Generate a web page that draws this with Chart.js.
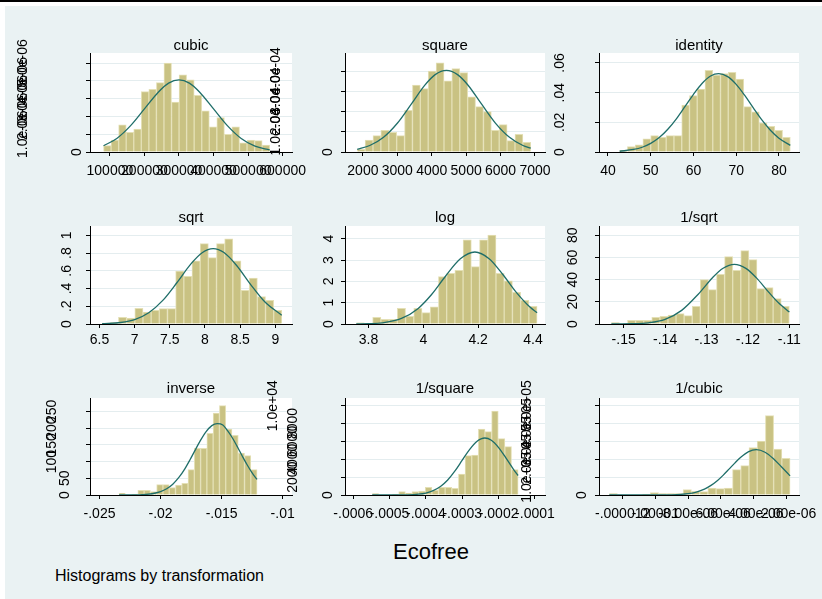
<!DOCTYPE html>
<html>
<head>
<meta charset="utf-8">
<script src="https://cdn.jsdelivr.net/npm/chart.js@4.4.1/dist/chart.umd.min.js"></script>
<style>
  html, body { margin: 0; padding: 0; background: #fff; }
  #page { position: relative; width: 822px; height: 599px; overflow: hidden; background: #fff;
          font-family: "Liberation Sans", Arial, sans-serif; color: #000; }
  #topline { position: absolute; left: 0; top: 0; width: 822px; height: 2px; background: #000; }
  #bg { position: absolute; left: 5px; top: 6px; width: 817px; height: 593px; background: #eaf2f3; }
  canvas { position: absolute; }
  .ttl { position: absolute; font-size: 15px; line-height: 15px; text-align: center; white-space: nowrap; z-index: 5; }
  #xname { position: absolute; left: 331px; width: 200px; top: 541px; font-size: 22px; line-height: 22px; text-align: center; }
  #note { position: absolute; left: 55px; top: 568px; font-size: 16px; line-height: 16px; white-space: nowrap; }
</style>
</head>
<body>
<div id="page">
  <div id="topline"></div>
  <div id="bg"></div>
  <div id="xname">Ecofree</div>
  <div id="note">Histograms by transformation</div>
</div>
<script>
// ---- data (bin midpoints, densities, normal curve points, ticks) ----

// cubic
const cubicMid = [92570, 114430, 136290, 158150, 180010, 201870, 223730, 245590, 267450, 289310, 311170, 333030, 354890, 376750, 398610, 420470, 442330, 464190, 486050, 507910, 529770, 551630];
const cubicDensity = [0.36e-6, 0.67e-6, 1.52e-6, 1.11e-6, 1.29e-6, 3.39e-6, 3.52e-6, 3.90e-6, 5.00e-6, 2.81e-6, 4.33e-6, 4.06e-6, 3.18e-6, 2.32e-6, 1.42e-6, 1.93e-6, 0.99e-6, 1.42e-6, 0.51e-6, 0.67e-6, 0.64e-6, 0.39e-6];
const cubicNormX = [81640, 120000, 160000, 200000, 240000, 270000, 300000, 330000, 360000, 400000, 440000, 480000, 520000, 562560];
const cubicNormY = [0.35e-6, 0.76e-6, 1.48e-6, 2.42e-6, 3.36e-6, 3.87e-6, 4.05e-6, 3.87e-6, 3.36e-6, 2.42e-6, 1.48e-6, 0.76e-6, 0.33e-6, 0.12e-6];
const cubicXTicks = [100000, 200000, 300000, 400000, 500000, 600000];
const cubicXLabels = ['100000', '200000', '300000', '400000', '500000', '600000'];
const cubicYTicks = [0, 1e-6, 2e-6, 3e-6, 4e-6, 5e-6];
const cubicYLabels = ['0', '1.0e-06', '2.0e-06', '3.0e-06', '4.0e-06', '5.0e-06'];

// square
const squareMid = [1950, 2179, 2408, 2637, 2866, 3096, 3325, 3554, 3783, 4012, 4242, 4471, 4700, 4929, 5158, 5388, 5617, 5846, 6075, 6304, 6534, 6763];
const squareDensity = [0.13e-4, 0.59e-4, 0.81e-4, 1.07e-4, 0.97e-4, 0.81e-4, 2.06e-4, 3.31e-4, 3.13e-4, 4.00e-4, 4.40e-4, 3.52e-4, 4.12e-4, 3.92e-4, 2.73e-4, 2.24e-4, 1.99e-4, 1.07e-4, 1.35e-4, 0.56e-4, 0.87e-4, 0.48e-4];
const squareNormX = [1835, 2200, 2600, 3000, 3400, 3800, 4100, 4427, 4750, 5050, 5450, 5850, 6250, 6650, 6877];
const squareNormY = [0.13e-4, 0.32e-4, 0.73e-4, 1.42e-4, 2.35e-4, 3.30e-4, 3.82e-4, 4.03e-4, 3.82e-4, 3.31e-4, 2.36e-4, 1.43e-4, 0.74e-4, 0.32e-4, 0.19e-4];
const squareXTicks = [2000, 3000, 4000, 5000, 6000, 7000];
const squareXLabels = ['2000', '3000', '4000', '5000', '6000', '7000'];
const squareYTicks = [0, 1e-4, 2e-4, 3e-4, 4e-4];
const squareYLabels = ['0', '1.0e-04', '2.0e-04', '3.0e-04', '4.0e-04'];

// identity
const identityMid = [43.64, 45.45, 47.27, 49.08, 50.90, 52.71, 54.53, 56.34, 58.16, 59.97, 61.79, 63.60, 65.42, 67.23, 69.05, 70.86, 72.68, 74.49, 76.31, 78.12, 79.94, 81.75];
const identityDensity = [0.0011, 0.0036, 0.0049, 0.0088, 0.0110, 0.0099, 0.0110, 0.0110, 0.0317, 0.0380, 0.0425, 0.0551, 0.0519, 0.0528, 0.0537, 0.0492, 0.0306, 0.0270, 0.0196, 0.0173, 0.0146, 0.0099];
const identityNormX = [42.73, 46, 48, 50, 52, 54, 56, 58, 60, 62, 64, 65.9, 68, 70, 72, 74, 76, 78, 80, 82.66];
const identityNormY = [0.0005, 0.0017, 0.0032, 0.0058, 0.0097, 0.0153, 0.0224, 0.0306, 0.0389, 0.0462, 0.0512, 0.0528, 0.0508, 0.0456, 0.0381, 0.0297, 0.0216, 0.0147, 0.0093, 0.0045];
const identityXTicks = [40, 50, 60, 70, 80];
const identityXLabels = ['40', '50', '60', '70', '80'];
const identityYTicks = [0, 0.02, 0.04, 0.06];
const identityYLabels = ['0', '.02', '.04', '.06'];

// sqrt
const sqrtMid = [6.595, 6.711, 6.827, 6.944, 7.060, 7.176, 7.292, 7.408, 7.525, 7.641, 7.757, 7.873, 7.990, 8.106, 8.222, 8.338, 8.454, 8.571, 8.687, 8.803, 8.919, 9.035];
const sqrtDensity = [0.011, 0.015, 0.075, 0.068, 0.177, 0.135, 0.154, 0.173, 0.173, 0.598, 0.538, 0.711, 0.906, 0.748, 0.906, 0.959, 0.711, 0.380, 0.519, 0.308, 0.267, 0.154];
const sqrtNormX = [6.537, 6.8, 7.0, 7.2, 7.4, 7.6, 7.8, 7.96, 8.116, 8.27, 8.45, 8.65, 8.85, 9.092];
const sqrtNormY = [0.003, 0.017, 0.050, 0.127, 0.266, 0.465, 0.678, 0.804, 0.850, 0.806, 0.660, 0.445, 0.250, 0.098];
const sqrtXTicks = [6.5, 7, 7.5, 8, 8.5, 9];
const sqrtXLabels = ['6.5', '7', '7.5', '8', '8.5', '9'];
const sqrtYTicks = [0, 0.2, 0.4, 0.6, 0.8, 1];
const sqrtYLabels = ['0', '.2', '.4', '.6', '.8', '1'];

// log
const logMid = [3.770, 3.800, 3.830, 3.860, 3.890, 3.920, 3.950, 3.980, 4.010, 4.040, 4.070, 4.100, 4.130, 4.160, 4.190, 4.220, 4.250, 4.280, 4.310, 4.340, 4.370, 4.400];
const logDensity = [0.06, 0.02, 0.31, 0.22, 0.22, 0.73, 0.36, 0.73, 0.53, 0.81, 2.22, 2.38, 2.52, 3.94, 2.69, 3.94, 4.17, 2.38, 2.02, 1.48, 1.11, 0.83];
const logNormX = [3.755, 3.80, 3.85, 3.92, 3.98, 4.03, 4.08, 4.135, 4.188, 4.24, 4.29, 4.34, 4.39, 4.415];
const logNormY = [0.004, 0.016, 0.057, 0.259, 0.720, 1.384, 2.227, 3.054, 3.375, 3.061, 2.322, 1.473, 0.781, 0.532];
const logXTicks = [3.8, 4, 4.2, 4.4];
const logXLabels = ['3.8', '4', '4.2', '4.4'];
const logYTicks = [0, 1, 2, 3, 4];
const logYLabels = ['0', '1', '2', '3', '4'];

// 1/sqrt
const rsqrtMid = [-0.15200, -0.15005, -0.14810, -0.14614, -0.14419, -0.14224, -0.14028, -0.13833, -0.13638, -0.13442, -0.13247, -0.13052, -0.12857, -0.12661, -0.12466, -0.12271, -0.12075, -0.11880, -0.11685, -0.11490, -0.11294, -0.11099];
const rsqrtDensity = [1.2, 0, 3.3, 3.3, 3.3, 6.0, 6.9, 8.1, 9.3, 7.5, 15.9, 40.0, 31.0, 44.8, 60.8, 48.4, 66.2, 58.1, 31.9, 32.8, 22.9, 15.9];
const rsqrtNormX = [-0.15298, -0.148, -0.144, -0.140, -0.136, -0.132, -0.1285, -0.126, -0.12328, -0.1205, -0.118, -0.115, -0.1125, -0.10999];
const rsqrtNormY = [0.02, 0.21, 1.08, 4.23, 12.3, 26.9, 42.0, 50.3, 53.8, 50.2, 41.8, 28.8, 18.7, 10.8];
const rsqrtXTicks = [-0.15, -0.14, -0.13, -0.12, -0.11];
const rsqrtXLabels = ['-.15', '-.14', '-.13', '-.12', '-.11'];
const rsqrtYTicks = [0, 20, 40, 60, 80];
const rsqrtYLabels = ['0', '20', '40', '60', '80'];

// inverse
const inverseMid = [-0.023146, -0.022632, -0.022118, -0.021604, -0.021090, -0.020576, -0.020062, -0.019548, -0.019034, -0.018520, -0.018006, -0.017492, -0.016978, -0.016464, -0.015950, -0.015436, -0.014922, -0.014408, -0.013894, -0.013380, -0.012866, -0.012352];
const inverseDensity = [5.0, 0, 3.0, 13.9, 13.9, 10.0, 30.9, 30.9, 21.9, 29.9, 34.9, 75.7, 139.4, 139.4, 184.3, 245.0, 266.9, 197.2, 178.3, 125.5, 117.5, 75.7];
const inverseNormX = [-0.0234, -0.0222, -0.0215, -0.0207, -0.0200, -0.0195, -0.0190, -0.0185, -0.0180, -0.0176, -0.0172, -0.0168, -0.0163, -0.0158, -0.015365, -0.0149, -0.0145, -0.0141, -0.0137, -0.0133, -0.0129, -0.0125, -0.0121];
const inverseNormY = [0.02, 0.27, 0.99, 3.7, 9.9, 18.6, 32.4, 52.4, 79.1, 104.5, 131.8, 158.8, 188.1, 207.4, 213.1, 209.1, 191.5, 169.6, 143.5, 116.0, 89.6, 66.1, 46.6];
const inverseXTicks = [-0.025, -0.02, -0.015, -0.01];
const inverseXLabels = ['-.025', '-.02', '-.015', '-.01'];
const inverseYTicks = [0, 50, 100, 150, 200, 250];
const inverseYLabels = ['0', '50', '100', '150', '200', '250'];

// 1/square
const rsquareMid = [-0.0005386, -0.0005204, -0.0005021, -0.0004839, -0.0004656, -0.0004474, -0.0004291, -0.0004109, -0.0003926, -0.0003744, -0.0003561, -0.0003379, -0.0003196, -0.0003014, -0.0002831, -0.0002649, -0.0002466, -0.0002284, -0.0002101, -0.0001919, -0.0001736, -0.0001554];
const rsquareDensity = [149, 0, 0, 112, 373, 224, 373, 448, 858, 522, 858, 858, 746, 2351, 4403, 4478, 7388, 7090, 9403, 6306, 5410, 2836];
const rsquareNormX = [-0.0005477, -0.00050, -0.00045, -0.00042, -0.00040, -0.00038, -0.00036, -0.00034, -0.00032, -0.00030, -0.00028, -0.00026, -0.0002379, -0.00022, -0.00020, -0.00018, -0.00016, -0.0001464];
const rsquareNormY = [0, 1, 20, 92, 221, 482, 947, 1682, 2694, 3896, 5086, 5994, 6380, 6123, 5310, 4156, 2936, 2182];
const rsquareXTicks = [-0.0006, -0.0005, -0.0004, -0.0003, -0.0002, -0.0001];
const rsquareXLabels = ['-.0006', '-.0005', '-.0004', '-.0003', '-.0002', '-.0001'];
const rsquareYTicks = [0, 2000, 4000, 6000, 8000, 10000];
const rsquareYLabels = ['0', '2000', '4000', '6000', '8000', '1.0e+04'];

// 1/cubic
const rcubicMid = [-12.567e-6, -12.065e-6, -11.563e-6, -11.060e-6, -10.558e-6, -10.056e-6, -9.554e-6, -9.051e-6, -8.549e-6, -8.047e-6, -7.545e-6, -7.043e-6, -6.540e-6, -6.038e-6, -5.536e-6, -5.034e-6, -4.531e-6, -4.029e-6, -3.527e-6, -3.025e-6, -2.523e-6, -2.021e-6];
const rcubicDensity = [7463, 0, 0, 0, 5597, 13060, 7463, 7463, 7463, 29851, 20522, 18657, 39179, 35448, 39179, 141791, 164179, 264925, 302239, 444030, 257463, 205224];
const rcubicNormX = [-12.818e-6, -11e-6, -10e-6, -9e-6, -8e-6, -7.5e-6, -7e-6, -6.6e-6, -6.2e-6, -5.85e-6, -5.5e-6, -5.15e-6, -4.8e-6, -4.3e-6, -3.833e-6, -3.3e-6, -2.8e-6, -2.3e-6, -1.77e-6];
const rcubicNormY = [0, 8, 115, 1144, 7563, 16700, 33322, 53920, 81650, 111420, 144630, 178630, 210020, 242800, 253735, 239550, 204460, 157720, 107280];
const rcubicXTicks = [-12e-6, -10e-6, -8e-6, -6e-6, -4e-6, -2e-6];
const rcubicXLabels = ['-.000012', '-.00001', '-8.00e-06', '-6.00e-06', '-4.00e-06', '-2.00e-06'];
const rcubicYTicks = [0, 100000, 200000, 300000, 400000, 500000];
const rcubicYLabels = ['0', '1.0e+05', '2.0e+05', '3.0e+05', '4.0e+05', '5.0e+05'];

// ---- look ----
Chart.defaults.font.family = '"Liberation Sans", Arial, sans-serif';
Chart.defaults.color = '#000';
const barFill = '#c9c283';
const barEdge = '#e4e0b6';
const curveColor = '#1f6e69';
const gridColor = '#e4edef';

// panel boxes: plot area left/right/top/bottom in page pixels; ydx = y-label offset from the axis
const panels = [
  { title: 'cubic', L: 90, R: 292, T: 53, B: 152, titleTop: 37, pad: 6.5, xmin: 42470, xmax: 627070, ymax: 5.562e-6,
    mid: cubicMid, dens: cubicDensity, nx: cubicNormX, ny: cubicNormY, xt: cubicXTicks, xl: cubicXLabels, yt: cubicYTicks, yl: cubicYLabels,
    ydx: [-13.3, -66.7, -66.7, -66.7, -66.7, -66.7] },
  { title: 'square', L: 345, R: 545, T: 53, B: 152, titleTop: 37, pad: 6.5, xmin: 1480, xmax: 7291, ymax: 4.889e-4,
    mid: squareMid, dens: squareDensity, nx: squareNormX, ny: squareNormY, xt: squareXTicks, xl: squareXLabels, yt: squareYTicks, yl: squareYLabels,
    ydx: [-16.7, -69.3, -69.3, -69.3, -69.3] },
  { title: 'identity', L: 599, R: 799, T: 53, B: 152, titleTop: 37, pad: 6.5, xmin: 37.90, xmax: 84.69, ymax: 0.06674,
    mid: identityMid, dens: identityDensity, nx: identityNormX, ny: identityNormY, xt: identityXTicks, xl: identityXLabels, yt: identityYTicks, yl: identityYLabels,
    ydx: [-38.5, -38.5, -38.5, -38.5] },
  { title: 'sqrt', L: 90, R: 292, T: 226, B: 324, titleTop: 209, pad: 4, xmin: 6.3645, xmax: 9.2377, ymax: 1.105,
    mid: sqrtMid, dens: sqrtDensity, nx: sqrtNormX, ny: sqrtNormY, xt: sqrtXTicks, xl: sqrtXLabels, yt: sqrtYTicks, yl: sqrtYLabels,
    ydx: [-23.3, -23.3, -23.3, -23.3, -23.3, -23.3] },
  { title: 'log', L: 345, R: 545, T: 226, B: 324, titleTop: 209, pad: 4, xmin: 3.714, xmax: 4.4439, ymax: 4.594,
    mid: logMid, dens: logDensity, nx: logNormX, ny: logNormY, xt: logXTicks, xl: logXLabels, yt: logYTicks, yl: logYLabels,
    ydx: [-15.5, -15.5, -15.5, -15.5, -15.5] },
  { title: '1/sqrt', L: 599, R: 799, T: 226, B: 324, titleTop: 209, pad: 4, xmin: -0.15596, xmax: -0.10767, ymax: 88.42,
    mid: rsqrtMid, dens: rsqrtDensity, nx: rsqrtNormX, ny: rsqrtNormY, xt: rsqrtXTicks, xl: rsqrtXLabels, yt: rsqrtYTicks, yl: rsqrtYLabels,
    ydx: [-26.3, -26.3, -26.3, -26.3, -26.3] },
  { title: 'inverse', L: 90, R: 292, T: 398, B: 495, titleTop: 380, pad: 6.5, xmin: -0.02578, xmax: -0.009234, ymax: 289.9,
    mid: inverseMid, dens: inverseDensity, nx: inverseNormX, ny: inverseNormY, xt: inverseXTicks, xl: inverseXLabels, yt: inverseYTicks, yl: inverseYLabels,
    ydx: [-25, -25, -38.3, -38.3, -38.3, -38.3] },
  { title: '1/square', L: 345, R: 545, T: 398, B: 495, titleTop: 380, pad: 6.5, xmin: -0.0006225, xmax: -0.0000724, ymax: 10858,
    mid: rsquareMid, dens: rsquareDensity, nx: rsquareNormX, ny: rsquareNormY, xt: rsquareXTicks, xl: rsquareXLabels, yt: rsquareYTicks, yl: rsquareYLabels,
    ydx: [-16.7, -52, -52, -52, -52, -72.3] },
  { title: '1/cubic', L: 599, R: 799, T: 398, B: 495, titleTop: 380, pad: 6.5, xmin: -13.444e-6, xmax: -1.224e-6, ymax: 542910,
    mid: rcubicMid, dens: rcubicDensity, nx: rcubicNormX, ny: rcubicNormY, xt: rcubicXTicks, xl: rcubicXLabels, yt: rcubicYTicks, yl: rcubicYLabels,
    ydx: [-17.3, -72, -72, -72, -72, -72] }
];

const page = document.getElementById('page');

function drawPanel(p) {
  // room round the plot area: left for the y labels, top so long rotated labels are not cut
  const leftM = 90, padTop = 24, padRight = 36, bottomM = 34;
  const w = p.R - p.L + leftM + padRight;
  const h = p.B - p.T + padTop + bottomM;
  const cv = document.createElement('canvas');
  cv.width = w;
  cv.height = h;
  cv.style.left = (p.L - leftM) + 'px';
  cv.style.top = (p.T - padTop) + 'px';
  cv.style.width = w + 'px';
  cv.style.height = h + 'px';
  page.appendChild(cv);

  const t = document.createElement('div');
  t.className = 'ttl';
  t.textContent = p.title;
  t.style.left = p.L + 'px';
  t.style.width = (p.R - p.L) + 'px';
  t.style.top = p.titleTop + 'px';
  page.appendChild(t);

  // white plot region + rotated y labels (Stata style)
  const look = {
    id: 'look',
    beforeDraw(chart) {
      const a = chart.chartArea, ctx = chart.ctx;
      ctx.save();
      ctx.fillStyle = '#fff';
      ctx.fillRect(a.left, a.top, a.right - a.left, a.bottom - a.top);
      ctx.restore();
    },
    afterDraw(chart) {
      const a = chart.chartArea, ctx = chart.ctx, ys = chart.scales.y;
      ctx.save();
      ctx.font = '14px "Liberation Sans", Arial, sans-serif';
      ctx.fillStyle = '#000';
      ctx.textAlign = 'center';
      ctx.textBaseline = 'middle';
      p.yt.forEach((v, i) => {
        ctx.save();
        ctx.translate(a.left + p.ydx[i], ys.getPixelForValue(v));
        ctx.rotate(-Math.PI / 2);
        ctx.fillText(p.yl[i], 0, 0);
        ctx.restore();
      });
      ctx.restore();
    }
  };

  new Chart(cv, {
    type: 'bar',
    data: {
      datasets: [
        {
          type: 'line', order: 0,
          data: p.nx.map((x, i) => ({ x: x, y: p.ny[i] })),
          borderColor: curveColor, borderWidth: 1.3, pointRadius: 0,
          cubicInterpolationMode: 'monotone', fill: false
        },
        {
          type: 'bar', order: 1,
          data: p.mid.map((x, i) => ({ x: x, y: p.dens[i] })),
          backgroundColor: barFill, borderColor: barEdge, borderWidth: 1,
          barPercentage: 1, categoryPercentage: 1
        }
      ]
    },
    options: {
      responsive: false,
      animation: false,
      events: [],
      layout: { padding: { left: 0, top: padTop, right: padRight, bottom: 0 } },
      plugins: { legend: { display: false }, tooltip: { enabled: false } },
      scales: {
        x: {
          type: 'linear', min: p.xmin, max: p.xmax, offset: false,
          afterBuildTicks: s => { s.ticks = p.xt.map(v => ({ value: v })); },
          afterFit: s => { s.height = bottomM; s.paddingLeft = 0; s.paddingRight = 0; },
          ticks: {
            autoSkip: false, maxRotation: 0, minRotation: 0, padding: p.pad,
            font: { size: 14 }, color: '#000',
            callback: (v, i) => p.xl[i]
          },
          grid: { offset: false, drawOnChartArea: false, drawTicks: true, tickLength: 4, tickColor: '#000' },
          border: { display: true, color: '#000', width: 1 }
        },
        y: {
          type: 'linear', min: 0, max: p.ymax,
          afterBuildTicks: s => { s.ticks = p.yt.map(v => ({ value: v })); },
          afterFit: s => { s.width = leftM; s.paddingTop = 0; s.paddingBottom = 0; },
          ticks: { display: false },
          grid: { color: gridColor, lineWidth: 1, drawTicks: true, tickLength: 4, tickColor: '#000' },
          border: { display: true, color: '#000', width: 1 }
        }
      }
    },
    plugins: [look]
  });
}

panels.forEach(drawPanel);
</script>
</body>
</html>
